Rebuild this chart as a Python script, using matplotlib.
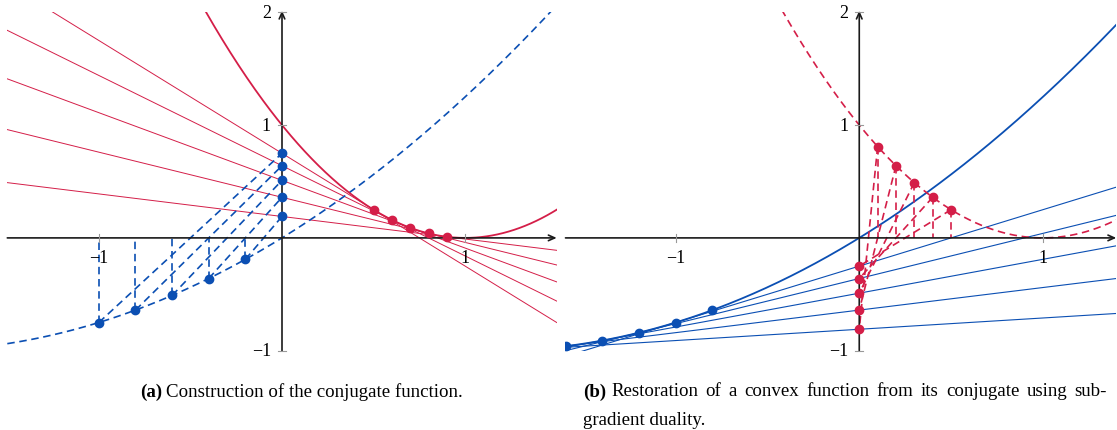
import numpy as np
import matplotlib.pyplot as plt

plt.rcParams['font.family'] = ['Liberation Serif', 'DejaVu Serif']

RED = '#d41e48'
BLUE = '#0b4fb3'

# (a) points on f (blue) and on its conjugate f* (red)
a_dot_x = [-1.0, -0.8, -0.6, -0.4, -0.2]
a_dot_y = [-0.75, -0.64, -0.51, -0.36, -0.19]
a_red_x = [0.5, 0.6, 0.7, 0.8, 0.9]
a_red_y = [0.25, 0.16, 0.09, 0.04, 0.01]

# (b) points on f* (red) and on f (blue)
b_red_x = [0.1, 0.2, 0.3, 0.4, 0.5]
b_red_y = [0.81, 0.64, 0.49, 0.36, 0.25]
b_dot_x = [-1.6, -1.4, -1.2, -1.0, -0.8]
b_dot_y = [-0.96, -0.91, -0.84, -0.75, -0.64]

xticks = [-1, 1]
yticks = [-1, 1, 2]

caption_a = 'Construction of the conjugate function.'
caption_b1 = 'Restoration of a convex function from its conjugate using sub-'
caption_b2 = 'gradient duality.'


def f(x):
    return x + x**2 / 4


def fconj(s):
    return (1 - s)**2


DASH = (0, (4.5, 2.8))


def setup(ax, xlim):
    ax.set_xlim(xlim)
    ax.set_ylim(-1, 2)
    ax.axis('off')
    arr = dict(arrowstyle='->,head_length=0.45,head_width=0.2', color='#1a1a1a',
               lw=1.2, shrinkA=0, shrinkB=0)
    ax.annotate('', xy=(xlim[1], 0), xytext=(xlim[0], 0), arrowprops=arr,
                annotation_clip=False, zorder=4)
    ax.annotate('', xy=(0, 2.015), xytext=(0, -1), arrowprops=arr,
                annotation_clip=False, zorder=4)
    for t in xticks:
        ax.plot([t, t], [-0.035, 0.035], color='#999999', lw=0.8, clip_on=False, zorder=4)
        ax.annotate('\u22121' if t < 0 else str(t), (t, 0), xytext=(0, -14),
                    textcoords='offset points', ha='center', va='center', fontsize=13)
    for t in yticks:
        ax.plot([-0.022, 0.022], [t, t], color='#999999', lw=0.8, clip_on=False, zorder=4)
        lab = '\u2212' + str(-t) if t < 0 else str(t)
        ax.annotate(lab, (0, t), xytext=(-8, 0), textcoords='offset points',
                    ha='right', va='center', fontsize=13)


fig = plt.figure(figsize=(11.17, 4.31), dpi=100)
W, H = 1117, 431
y0, y1 = 351.7, 13.3

# ---------------- (a) ----------------
axa = fig.add_axes([7.3 / W, (H - y0) / H, 549.4 / W, (y0 - y1) / H])
setup(axa, (-1.5, 1.5))
xx = np.linspace(-1.5, 1.5, 400)
axa.plot(xx, f(xx), color=BLUE, lw=1.2, ls=DASH, zorder=2)
axa.plot(xx, fconj(xx), color=RED, lw=1.3, zorder=2)
for x, y in zip(a_dot_x, a_dot_y):
    axa.plot(xx, x * xx - y, color=RED, lw=0.7, zorder=1)
    axa.plot([x, x], [y, 0], color=BLUE, lw=1.2, ls=DASH, zorder=2)
    axa.plot([x, 0], [y, -y], color=BLUE, lw=1.2, ls=DASH, zorder=2)
axa.plot(a_dot_x, a_dot_y, 'o', color=BLUE, ms=6, zorder=5)
axa.plot([0] * len(a_dot_y), [-v for v in a_dot_y], 'o', color=BLUE, ms=6, zorder=5)
axa.plot(a_red_x, a_red_y, 'o', color=RED, ms=6, zorder=5)

# ---------------- (b) ----------------
axb = fig.add_axes([565.5 / W, (H - y0) / H, 550.8 / W, (y0 - y1) / H])
setup(axb, (-1.6, 1.4))
xx = np.linspace(-1.6, 1.4, 400)
axb.plot(xx, f(xx), color=BLUE, lw=1.3, zorder=2)
axb.plot(xx, fconj(xx), color=RED, lw=1.2, ls=DASH, zorder=2)
for s, v in zip(b_red_x, b_red_y):
    axb.plot(xx, s * xx - v, color=BLUE, lw=0.8, zorder=1)
    axb.plot([s, s], [v, 0], color=RED, lw=1.2, ls=DASH, zorder=2)
    axb.plot([s, 0], [v, -v], color=RED, lw=1.2, ls=DASH, zorder=2)
axb.plot(b_dot_x, b_dot_y, 'o', color=BLUE, ms=6, zorder=5)
axb.plot(b_red_x, b_red_y, 'o', color=RED, ms=6, zorder=5)
axb.plot([0] * len(b_red_y), [-v for v in b_red_y], 'o', color=RED, ms=6, zorder=5)

# ---------------- captions ----------------
fs = 13.6
r = fig.canvas.get_renderer()


def put(x, y, s, **kw):
    t = fig.text(x / W, 1 - y / H, s, fontsize=fs, va='center', **kw)
    return t.get_window_extent(r).x1


def justified(x, x_end, y, words):
    # lay words out so that the line ends at x_end (like LaTeX)
    ws = []
    for w in words:
        t = fig.text(0, 0, w, fontsize=fs)
        ws.append(t.get_window_extent(r).width)
        t.remove()
    gap = (x_end - x - sum(ws)) / (len(words) - 1)
    for w, wd in zip(words, ws):
        put(x, y, w)
        x += wd + gap


end = put(140, 392, '(a)', fontweight='bold')
put(end + 4, 392, caption_a)

end = put(583, 392, '(b)', fontweight='bold')
justified(end + 5, 1107, 392, caption_b1.split())
put(583, 421, caption_b2)

fig.savefig('out.png', dpi=100)
